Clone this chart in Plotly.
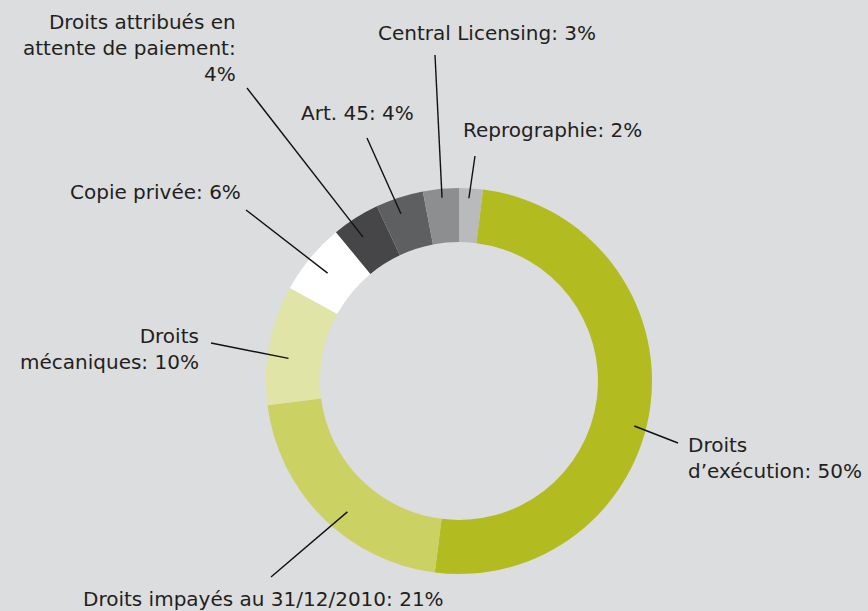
import math
import plotly.graph_objects as go

# --- data -------------------------------------------------------------
labels = [
    "Reprographie",
    "Droits<br>d’exécution",
    "Droits impayés au 31/12/2010",
    "Droits<br>mécaniques",
    "Copie privée",
    "Droits attribués en<br>attente de paiement",
    "Art. 45",
    "Central Licensing",
]
shares = [2, 50, 21, 10, 6, 4, 4, 3]
colors = ["#b9babc", "#b2bb1f", "#cbd163", "#e0e4a6", "#ffffff",
          "#464648", "#5e5f61", "#8d8e90"]

# --- layout settings ---------------------------------------------------
W, H = 868, 611
BG = "#dcdddf"
FONT = "DejaVu Sans"
TEXT_COLOR = "#231f20"

cx, cy, R = 459, 381, 193          # donut centre and outer radius (px)
HOLE = 0.72

# separator between label and value, label box position and anchors,
# leader line outer end, and where the leader meets the ring
# (fraction through the slice, radius in px)
seps = [": ", ": ", ": ", ": ", ": ", ":<br>", ": ", ": "]
text_pos = [(552, 130), (686, 458), (263, 599), (201, 349),
            (155, 192), (238, 48), (357, 113), (487, 33)]
anchors = ["center", "left", "center", "right", "center", "right", "center", "center"]
aligns = ["center", "left", "center", "right", "center", "right", "center", "center"]
leader_out = [(475, 156), (678, 443), (271, 577), (211, 343),
              (246, 210), (247, 88), (367, 138), (435, 55)]
leader_frac = [0.43, 0.54, 0.44, 0.41, 0.49, 0.41, 0.42, 0.51]
leader_r = [183, 181, 172, 172, 170, 173, 177, 184]


def px(x, y):
    return x / W, 1 - y / H


fig = go.Figure(go.Pie(
    labels=[l.replace("<br>", " ") for l in labels],
    values=shares,
    sort=False,
    direction="clockwise",
    rotation=0,
    hole=HOLE,
    textinfo="none",
    hoverinfo="label+percent",
    marker=dict(colors=colors, line=dict(width=0)),
    domain=dict(x=[(cx - R) / W, (cx + R) / W],
                y=[1 - (cy + R) / H, 1 - (cy - R) / H]),
    showlegend=False,
))

total = sum(shares)
shapes, annotations = [], []
cum = 0
for i, v in enumerate(shares):
    ang = 2 * math.pi * (cum + leader_frac[i] * v) / total
    cum += v
    ix = cx + leader_r[i] * math.sin(ang)
    iy = cy - leader_r[i] * math.cos(ang)
    ox, oy = leader_out[i]
    x0, y0 = px(ox, oy)
    x1, y1 = px(ix, iy)
    shapes.append(dict(type="line", xref="paper", yref="paper",
                       x0=x0, y0=y0, x1=x1, y1=y1,
                       line=dict(color="#111111", width=1.4)))
    text = labels[i] + seps[i] + f"{v}%"
    tx, ty = px(*text_pos[i])
    annotations.append(dict(x=tx, y=ty, xref="paper", yref="paper",
                            text=text, showarrow=False,
                            xanchor=anchors[i], yanchor="middle",
                            align=aligns[i],
                            font=dict(family=FONT, size=20, color=TEXT_COLOR)))

fig.update_layout(
    width=W, height=H,
    margin=dict(l=0, r=0, t=0, b=0),
    paper_bgcolor=BG, plot_bgcolor=BG,
    shapes=shapes, annotations=annotations,
)

fig.write_html("out.html")
